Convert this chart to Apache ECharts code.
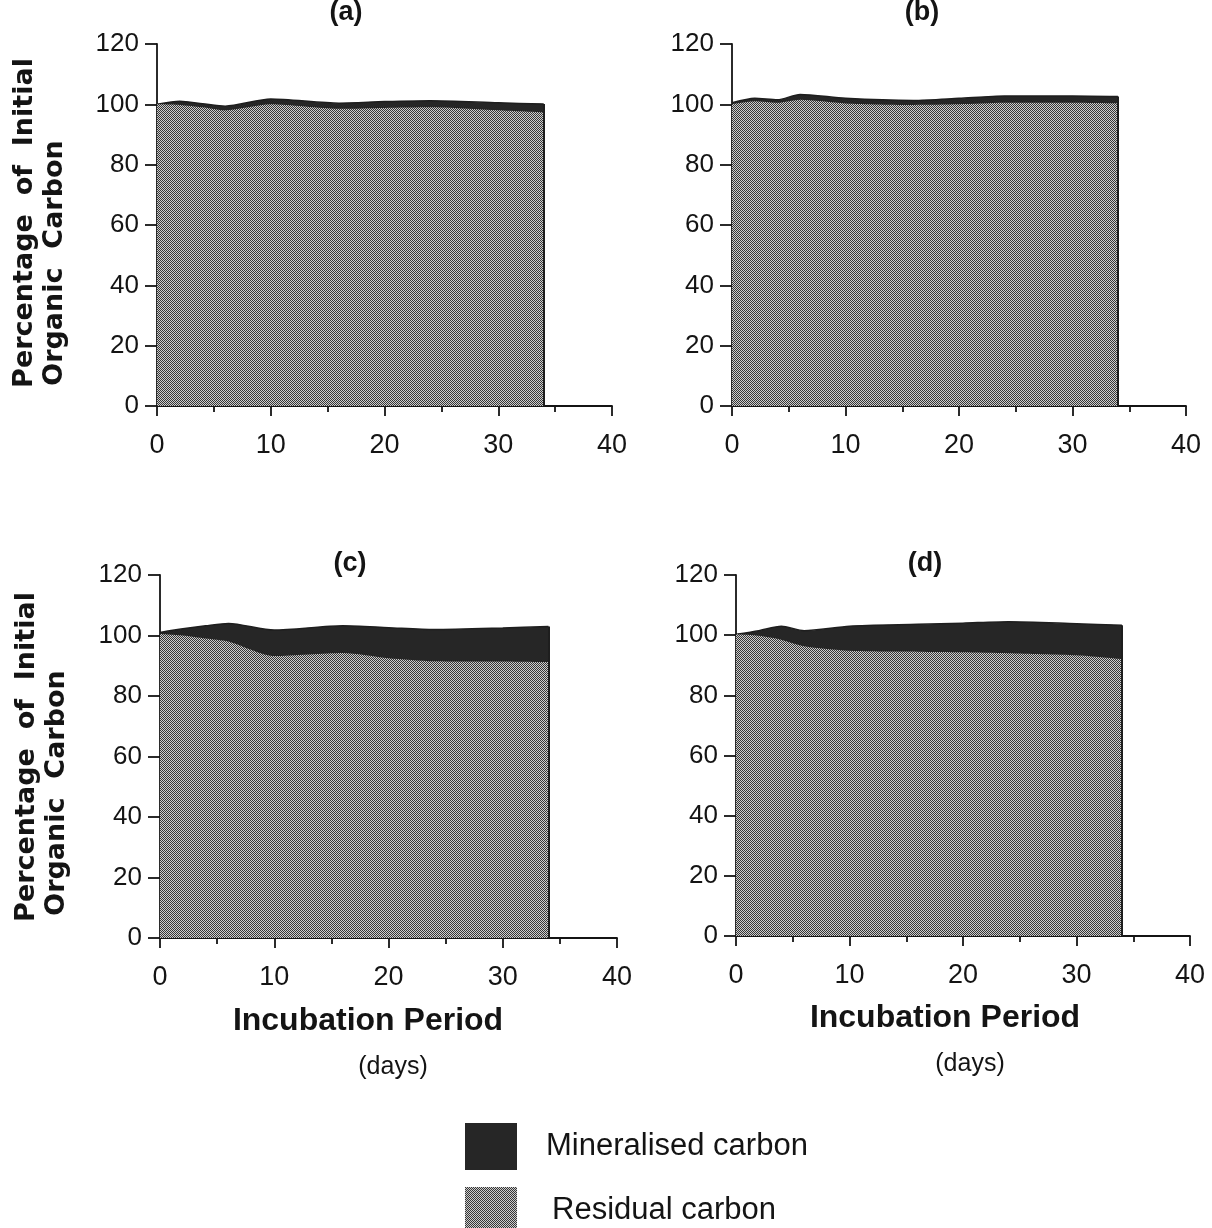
<!DOCTYPE html>
<html>
<head>
<meta charset="utf-8">
<script src="https://cdn.jsdelivr.net/npm/echarts@6/dist/echarts.min.js"></script>
<style>
html,body{margin:0;padding:0;background:#fff;}
#chart{width:1212px;height:1228px;}
</style>
</head>
<body>
<div id="chart"></div>
<script>
// ---- data ----
const days = [0, 2, 4, 6, 10, 16, 20, 24, 30, 34];
const panelLabels = ['(a)', '(b)', '(c)', '(d)'];
const xTicks = [0, 10, 20, 30, 40];
const yTicks = [0, 20, 40, 60, 80, 100, 120];

// total = residual + mineralised (top of dark band)
const totalA    = [100.0, 101.0, 100.2, 99.4, 101.8, 100.4, 100.9, 101.2, 100.5, 100.1];
const residualA = [100.0, 99.8, 99.0, 98.0, 100.0, 98.5, 98.8, 99.0, 98.0, 97.3];

const totalB    = [100.5, 102.0, 101.5, 103.3, 102.0, 101.3, 102.0, 102.8, 102.8, 102.6];
const residualB = [100.0, 101.0, 100.5, 101.5, 100.3, 99.8, 100.0, 100.5, 100.5, 100.3];

const totalC    = [101.0, 102.2, 103.2, 104.0, 101.8, 103.2, 102.6, 102.0, 102.5, 103.0];
const residualC = [100.5, 100.0, 99.0, 98.0, 93.2, 94.2, 92.5, 91.5, 91.4, 91.2];

const totalD    = [100.3, 101.5, 103.0, 101.5, 103.0, 103.6, 104.0, 104.5, 103.8, 103.3];
const residualD = [100.3, 99.8, 98.5, 96.3, 94.8, 94.5, 94.3, 94.0, 93.3, 92.0];

const seriesNames = ['Mineralised carbon', 'Residual carbon'];
const totals = [totalA, totalB, totalC, totalD];
const residuals = [residualA, residualB, residualC, residualD];

// ---- styling ----
const FONT = '"Liberation Sans", Arial, Helvetica, sans-serif';
const WIDE = '"DejaVu Sans", "Liberation Sans", Arial, sans-serif';
const INK = '#141414';
const DARK = '#262626';

function makePattern() {
  const c = document.createElement('canvas');
  c.width = 2; c.height = 2;
  const ctx = c.getContext('2d');
  ctx.fillStyle = '#cdcdcd';
  ctx.fillRect(0, 0, 2, 2);
  ctx.fillStyle = '#363636';
  ctx.fillRect(0, 0, 1, 1);
  ctx.fillRect(1, 1, 1, 1);
  return c;
}
const pattern = { image: makePattern(), repeat: 'repeat' };

const grids = [
  { left: 157, top: 44, width: 455, height: 362 },
  { left: 732, top: 44, width: 454, height: 362 },
  { left: 160, top: 575, width: 457, height: 363 },
  { left: 736, top: 575, width: 454, height: 361 }
];

const xAxes = [], yAxes = [], series = [];
grids.forEach((g, i) => {
  xAxes.push({
    type: 'value', gridIndex: i, min: xTicks[0], max: xTicks[xTicks.length - 1],
    interval: xTicks[1] - xTicks[0],
    axisLine: { show: true, onZero: false, lineStyle: { color: INK, width: 1.8 } },
    axisTick: { show: true, length: 10, lineStyle: { color: INK, width: 1.8 } },
    minorTick: { show: true, splitNumber: 2, length: 6, lineStyle: { color: INK, width: 1.8 } },
    splitLine: { show: false }, minorSplitLine: { show: false },
    axisLabel: { fontSize: 27, color: INK, margin: 26, fontFamily: FONT }
  });
  yAxes.push({
    type: 'value', gridIndex: i, min: yTicks[0], max: yTicks[yTicks.length - 1],
    interval: yTicks[1] - yTicks[0],
    axisLine: { show: true, onZero: false, lineStyle: { color: INK, width: 1.8 } },
    axisTick: { show: true, length: 12, lineStyle: { color: INK, width: 1.8 } },
    splitLine: { show: false },
    axisLabel: { fontSize: 26, color: INK, margin: 18, fontFamily: FONT }
  });
  const tot = totals[i], res = residuals[i];
  const last = days.length - 1;
  series.push({
    type: 'line', name: seriesNames[0], xAxisIndex: i, yAxisIndex: i,
    data: days.map((d, j) => [d, tot[j]]),
    symbol: 'none', smooth: 0.25, z: 2,
    lineStyle: { color: '#1e1e1e', width: 1.5 },
    itemStyle: { color: DARK },
    areaStyle: { color: DARK, opacity: 1 },
    silent: true,
    markLine: {
      silent: true, symbol: 'none', label: { show: false },
      lineStyle: { color: '#1e1e1e', width: 2, type: 'solid' },
      data: [[{ coord: [days[last], 0] }, { coord: [days[last], tot[last]] }]]
    }
  });
  series.push({
    type: 'line', name: seriesNames[1], xAxisIndex: i, yAxisIndex: i,
    data: days.map((d, j) => [d, res[j]]),
    symbol: 'none', smooth: 0.25, z: 3,
    lineStyle: { width: 0, color: '#555' },
    itemStyle: { color: '#888' },
    areaStyle: { color: pattern, opacity: 1 },
    silent: true
  });
});

const titlePos = [[346, 13], [922, 13], [350, 564], [925, 564]];
const graphic = [];
panelLabels.forEach((t, i) => {
  graphic.push({
    type: 'text', x: titlePos[i][0], y: titlePos[i][1],
    style: { text: t, font: 'bold 27px ' + FONT, fill: INK, textAlign: 'center', textVerticalAlign: 'middle' }
  });
});
// y-axis names (left panels)
[[25, 223, 55, 263], [27, 757, 57, 793]].forEach(p => {
  graphic.push({
    type: 'text', x: p[0], y: p[1], rotation: Math.PI / 2,
    style: { text: 'Percentage  of  Initial', font: 'bold 27px ' + WIDE, fill: INK, textAlign: 'center', textVerticalAlign: 'middle' }
  });
  graphic.push({
    type: 'text', x: p[2], y: p[3], rotation: Math.PI / 2,
    style: { text: 'Organic  Carbon', font: 'bold 27px ' + WIDE, fill: INK, textAlign: 'center', textVerticalAlign: 'middle' }
  });
});
// x-axis names (bottom panels)
[[368, 1021, 393, 1067], [945, 1018, 970, 1064]].forEach(p => {
  graphic.push({
    type: 'text', x: p[0], y: p[1],
    style: { text: 'Incubation Period', font: 'bold 32px ' + FONT, fill: INK, textAlign: 'center', textVerticalAlign: 'middle' }
  });
  graphic.push({
    type: 'text', x: p[2], y: p[3],
    style: { text: '(days)', font: '25px ' + FONT, fill: INK, textAlign: 'center', textVerticalAlign: 'middle' }
  });
});

const legendBase = {
  left: 465, orient: 'vertical', itemWidth: 52, itemHeight: 47, icon: 'rect',
  selectedMode: false, padding: 0
};
const chart = echarts.init(document.getElementById('chart'), null, { renderer: 'canvas' });
chart.setOption({
  animation: false,
  backgroundColor: '#ffffff',
  textStyle: { fontFamily: FONT },
  grid: grids,
  xAxis: xAxes,
  yAxis: yAxes,
  series: series,
  legend: [
    Object.assign({}, legendBase, {
      top: 1123,
      textStyle: { fontSize: 31, color: INK, fontFamily: FONT, padding: [0, 0, 0, 24] },
      data: [{ name: seriesNames[0], itemStyle: { color: DARK, borderWidth: 0 } }]
    }),
    Object.assign({}, legendBase, {
      top: 1187,
      textStyle: { fontSize: 31, color: INK, fontFamily: FONT, padding: [0, 0, 0, 30] },
      data: [{ name: seriesNames[1], itemStyle: { color: pattern, borderWidth: 0 } }]
    })
  ],
  graphic: graphic
});
</script>
</body>
</html>
